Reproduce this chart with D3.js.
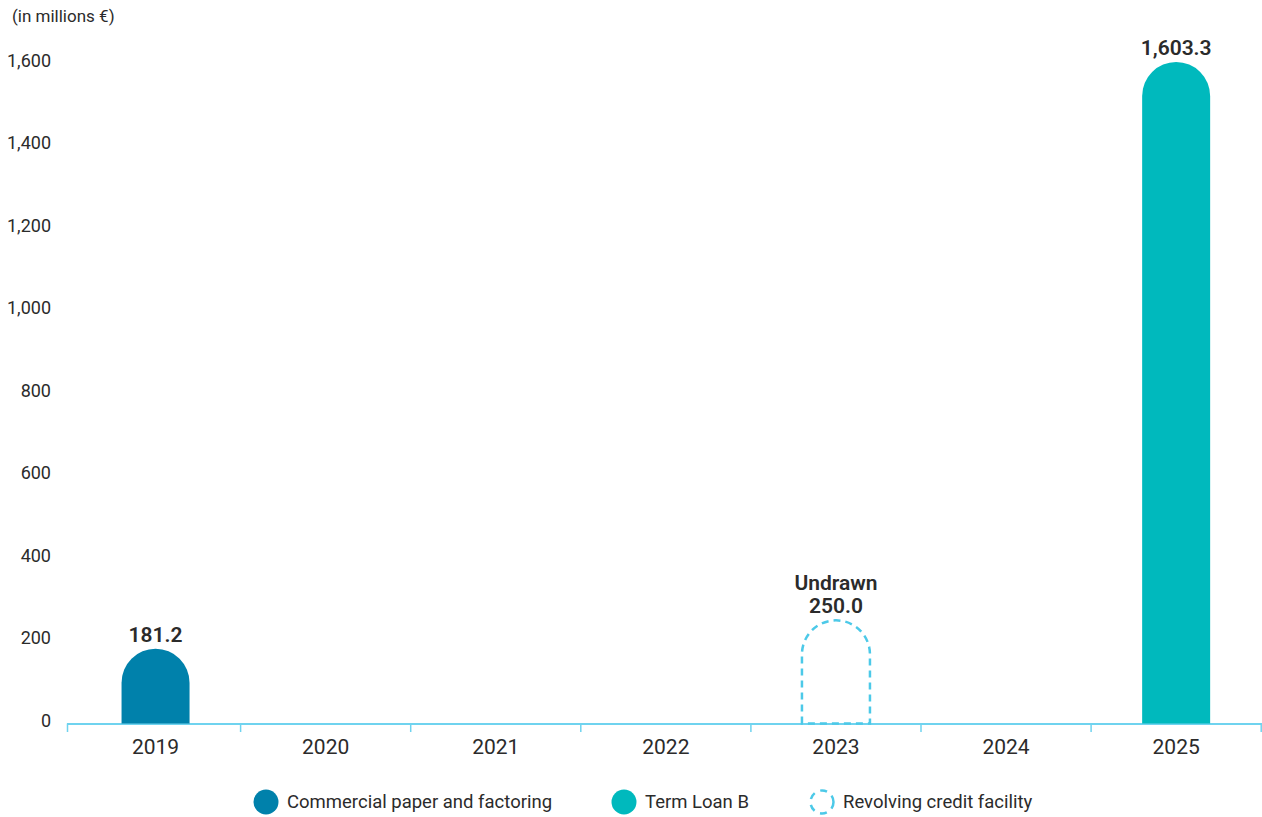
<!DOCTYPE html>
<html>
<head>
<meta charset="utf-8">
<script src="https://cdn.jsdelivr.net/npm/d3@7"></script>
<style>
  body { margin: 0; background: #fff; }
  svg { display: block; font-family: Roboto, "Open Sans", sans-serif; }
</style>
</head>
<body>
<svg id="chart" width="1262" height="817"></svg>
<script>
// Debt maturity profile (in millions €)
const years = ["2019", "2020", "2021", "2022", "2023", "2024", "2025"];
const commercialPaper = [181.2, 0, 0, 0, 0, 0, 0];
const termLoanB = [0, 0, 0, 0, 0, 0, 1603.3];
const revolvingCredit = [0, 0, 0, 0, 250.0, 0, 0];
const yTicks = [0, 200, 400, 600, 800, 1000, 1200, 1400, 1600];

const seriesDefs = [
  { name: "Commercial paper and factoring", values: commercialPaper, color: "#0081ab", dashed: false },
  { name: "Term Loan B", values: termLoanB, color: "#00b9bd", dashed: false },
  { name: "Revolving credit facility", values: revolvingCredit, color: "#4cc9e8", dashed: true }
];

const svg = d3.select("#chart");
const axisStart = 67, plotLeft = 70.5, plotRight = 1261.2, plotTop = 62, plotBottom = 723.5;
const textColor = "#2b2b2b";

const x = d3.scaleBand().domain(years).range([plotLeft, plotRight]).paddingInner(0).paddingOuter(0);
const y = d3.scaleLinear().domain([0, 1603.3]).range([plotBottom, plotTop]);

// Y tick labels (no axis line)
svg.append("g").selectAll("text").data(yTicks).join("text")
  .attr("x", 51).attr("y", d => y(d) - 3).attr("dy", "0.35em")
  .attr("text-anchor", "end")
  .attr("font-size", 18).attr("fill", textColor)
  .text(d => d3.format(",")(d));

svg.append("text").attr("x", 12).attr("y", 16).attr("dy", "0.35em")
  .attr("font-size", 17).attr("fill", textColor).text("(in millions €)");

// X axis: line plus boundary ticks
const axisColor = "#6fd3ef";
const g = svg.append("g");
g.append("line").attr("x1", axisStart).attr("x2", 1262).attr("y1", plotBottom + 0.5).attr("y2", plotBottom + 0.5)
  .attr("stroke", axisColor).attr("stroke-width", 2);
const bounds = [axisStart + 0.5].concat(years.slice(1).map(d => x(d))).concat([plotRight]);
g.selectAll("line.tick").data(bounds).join("line").attr("class", "tick")
  .attr("x1", d => d).attr("x2", d => d)
  .attr("y1", plotBottom).attr("y2", plotBottom + 8.5)
  .attr("stroke", axisColor).attr("stroke-width", 1.5);
g.selectAll("text").data(years).join("text")
  .attr("x", d => x(d) + x.bandwidth() / 2).attr("y", 747).attr("dy", "0.35em")
  .attr("text-anchor", "middle").attr("font-size", 21).attr("fill", textColor)
  .text(d => d);

// Bars with rounded tops
const barW = 68;
function barPath(cx, v) {
  const yTop = y(v), r = barW / 2, x0 = cx - r, x1 = cx + r;
  const p = d3.path();
  p.moveTo(x0, plotBottom);
  p.lineTo(x0, yTop + r);
  p.arc(cx, yTop + r, r, Math.PI, 0);
  p.lineTo(x1, plotBottom);
  p.closePath();
  return p.toString();
}

const barData = [];
seriesDefs.forEach(s => s.values.forEach((v, i) => {
  if (v > 0) barData.push({ year: years[i], value: v, s });
}));

const bars = svg.append("g");
const fmt = d3.format(",.1f");
barData.forEach(d => {
  const cx = x(d.year) + x.bandwidth() / 2;
  bars.append("path").attr("d", barPath(cx, d.value))
    .attr("fill", d.s.dashed ? "none" : d.s.color)
    .attr("stroke", d.s.dashed ? d.s.color : "none")
    .attr("stroke-width", d.s.dashed ? 2.5 : 0)
    .attr("stroke-dasharray", d.s.dashed ? "7,5" : null);
  const lbl = bars.append("text").attr("x", cx).attr("text-anchor", "middle")
    .attr("font-size", 21).attr("font-weight", 600).attr("fill", textColor);
  if (d.s.dashed) {
    lbl.append("tspan").attr("x", cx).attr("y", y(d.value) - 38).attr("dy", "0.35em").text("Undrawn");
    lbl.append("tspan").attr("x", cx).attr("y", y(d.value) - 15).attr("dy", "0.35em").text(fmt(d.value));
  } else {
    lbl.attr("y", y(d.value) - 14).attr("dy", "0.35em").text(fmt(d.value));
  }
});

// Legend
const legendX = [266, 624, 822];
const leg = svg.append("g");
seriesDefs.forEach((s, i) => {
  leg.append("circle").attr("cx", legendX[i]).attr("cy", 802).attr("r", s.dashed ? 11.5 : 12.5)
    .attr("fill", s.dashed ? "none" : s.color)
    .attr("stroke", s.dashed ? s.color : "none")
    .attr("stroke-width", s.dashed ? 2.5 : 0)
    .attr("stroke-dasharray", s.dashed ? "7,6" : null);
  leg.append("text").attr("x", legendX[i] + 21).attr("y", 802).attr("dy", "0.35em")
    .attr("font-size", 18.5).attr("fill", textColor)
    .text(s.name);
});
</script>
</body>
</html>
